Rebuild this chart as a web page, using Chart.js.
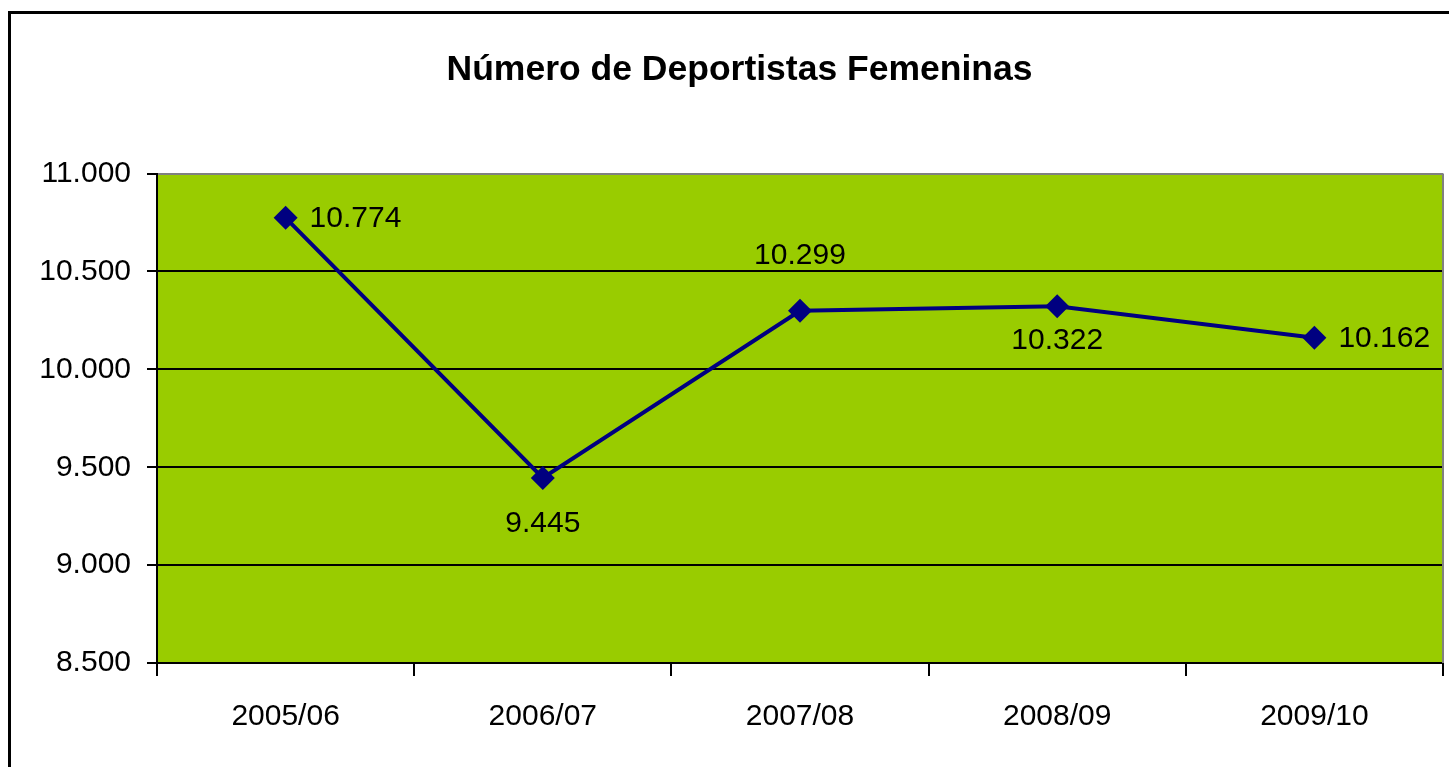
<!DOCTYPE html>
<html>
<head>
<meta charset="utf-8">
<style>
  html, body { margin: 0; padding: 0; background: #fff; }
  canvas { display: block; }
</style>
<script src="https://cdn.jsdelivr.net/npm/chart.js@4/dist/chart.umd.min.js"></script>
</head>
<body>
<canvas id="myChart" width="1449" height="767"></canvas>
<script>
'use strict';

const seasons = ['2005/06', '2006/07', '2007/08', '2008/09', '2009/10'];
const athletes = [10774, 9445, 10299, 10322, 10162];
const labelSides = ['right', 'below', 'above', 'belowNear', 'right'];
const yMin = 8500, yMax = 11000, yStep = 500;

const font = '"Liberation Sans", Arial, sans-serif';

// 10774 -> "10.774"
const fmt = (v) => String(v).replace(/\B(?=(\d{3})+(?!\d))/g, '.');

// Frame + green plot area
const backdrop = {
  id: 'backdrop',
  beforeDraw(chart) {
    const { ctx, chartArea: a } = chart;
    ctx.save();
    ctx.fillStyle = '#fff';
    ctx.fillRect(0, 0, chart.width, chart.height);
    ctx.strokeStyle = '#000';
    ctx.lineWidth = 3;
    ctx.strokeRect(9.5, 12.5, 1500, 1000);
    ctx.fillStyle = '#99CC00';
    ctx.fillRect(a.left, a.top, a.right - a.left, a.bottom - a.top);
    ctx.restore();
  },
  beforeDatasetsDraw(chart) {
    const { ctx, chartArea: a } = chart;
    ctx.save();
    ctx.strokeStyle = '#808080';
    ctx.lineWidth = 2;
    ctx.beginPath();
    ctx.moveTo(a.right, a.top);
    ctx.lineTo(a.right, a.bottom);
    ctx.stroke();
    ctx.restore();
  }
};

// Value labels next to the points
const valueLabels = {
  id: 'valueLabels',
  afterDatasetsDraw(chart) {
    const { ctx } = chart;
    const meta = chart.getDatasetMeta(0);
    ctx.save();
    ctx.font = '30px ' + font;
    ctx.fillStyle = '#000';
    ctx.textBaseline = 'middle';
    meta.data.forEach((pt, i) => {
      const text = fmt(athletes[i]);
      const side = labelSides[i];
      if (side === 'right') {
        ctx.textAlign = 'left';
        ctx.fillText(text, pt.x + 24, pt.y + 1);
      } else if (side === 'below') {
        ctx.textAlign = 'center';
        ctx.fillText(text, pt.x, pt.y + 46);
      } else if (side === 'belowNear') {
        ctx.textAlign = 'center';
        ctx.fillText(text, pt.x, pt.y + 34);
      } else {
        ctx.textAlign = 'center';
        ctx.fillText(text, pt.x, pt.y - 55);
      }
    });
    ctx.restore();
  }
};

const ctx = document.querySelector('#myChart').getContext('2d');

const myChart = new Chart(ctx, {
  type: 'line',
  data: {
    labels: seasons,
    datasets: [{
      data: athletes,
      borderColor: '#000080',
      backgroundColor: '#000080',
      borderWidth: 4,
      tension: 0,
      pointStyle: 'rectRot',
      pointRadius: 12,
      pointHoverRadius: 12,
      pointBorderWidth: 0,
      pointBackgroundColor: '#000080'
    }]
  },
  options: {
    responsive: false,
    animation: false,
    devicePixelRatio: 1,
    layout: { autoPadding: false, padding: { left: 36, right: 6, top: 0, bottom: 0 } },
    scales: {
      x: {
        offset: true,
        grid: {
          offset: true,
          drawOnChartArea: false,
          color: '#000',
          lineWidth: 2,
          tickLength: 13
        },
        border: { display: true, color: '#000', width: 2 },
        ticks: {
          color: '#000',
          padding: 23,
          maxRotation: 0,
          font: { family: font, size: 30 }
        },
        afterFit(scale) { scale.height = 104; }
      },
      y: {
        min: yMin,
        max: yMax,
        grid: {
          color: (c) => (c.tick && c.tick.value === yMax ? '#808080' : '#000'),
          tickColor: '#000',
          lineWidth: 2,
          tickLength: 10
        },
        border: { display: true, color: '#000', width: 2 },
        ticks: {
          stepSize: yStep,
          color: '#000',
          padding: 16,
          font: { family: font, size: 30 },
          callback: (value) => fmt(value)
        },
        afterFit(scale) { scale.width = 121; }
      }
    },
    plugins: {
      legend: { display: false },
      tooltip: { enabled: false },
      title: {
        display: true,
        text: 'Número de Deportistas Femeninas',
        color: '#000',
        font: { family: font, size: 35.5, weight: 'bold', lineHeight: 1.2 },
        padding: { top: 49, bottom: 82 }
      }
    }
  },
  plugins: [backdrop, valueLabels]
});
</script>
</body>
</html>
